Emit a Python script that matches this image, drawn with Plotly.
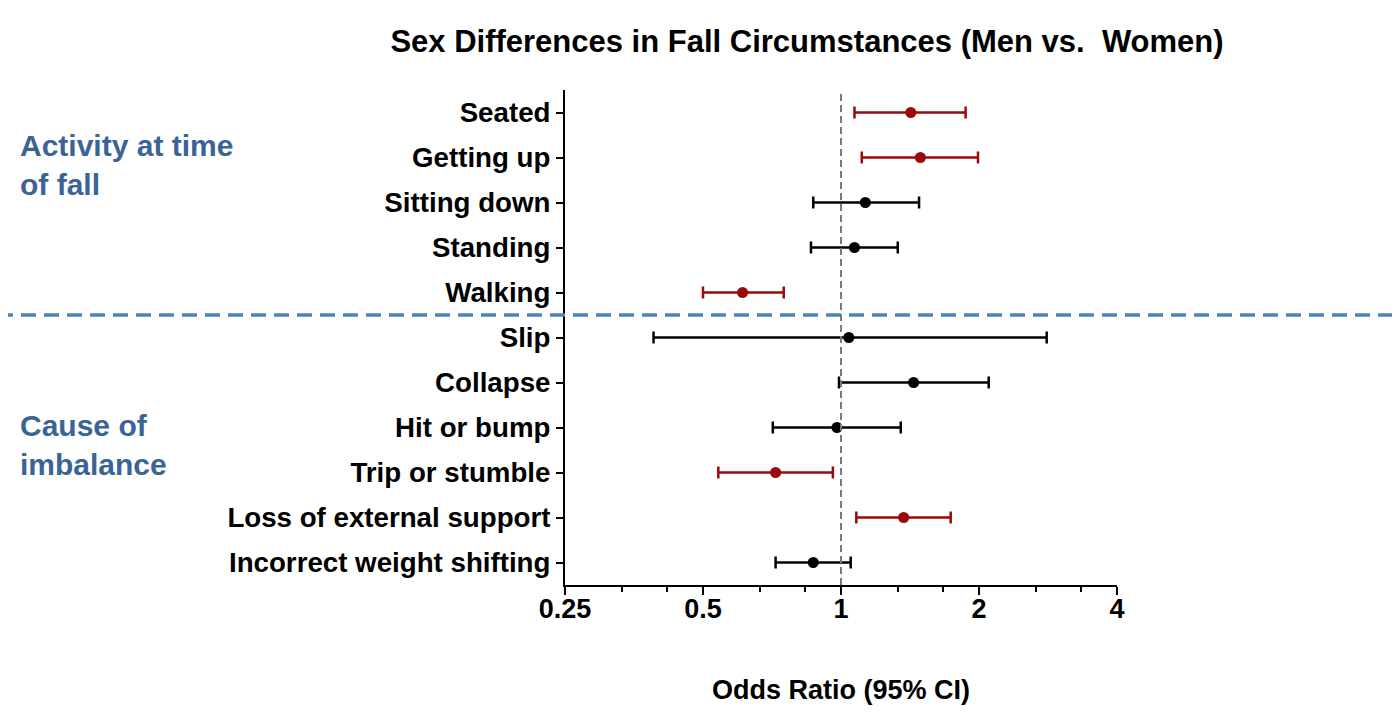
import math
import plotly.graph_objects as go

categories = ["Seated", "Getting up", "Sitting down", "Standing", "Walking",
              "Slip", "Collapse", "Hit or bump", "Trip or stumble",
              "Loss of external support", "Incorrect weight shifting"]
odds_ratio = [1.42, 1.49, 1.13, 1.07, 0.61, 1.04, 1.44, 0.98, 0.72, 1.37, 0.87]
ci_low = [1.07, 1.11, 0.87, 0.86, 0.50, 0.39, 0.99, 0.71, 0.54, 1.08, 0.72]
ci_high = [1.87, 1.99, 1.48, 1.33, 0.75, 2.81, 2.10, 1.35, 0.96, 1.735, 1.05]
significant = [True, True, False, False, True, False, False, False, True, True, False]
x_ticks = [0.25, 0.5, 1, 2, 4]
x_tick_labels = ["0.25", "0.5", "1", "2", "4"]
group_labels = ["Activity at time<br>of fall", "Cause of<br>imbalance"]

RED = "#9b0a0a"
BLACK = "#000000"
FONT = "Liberation Sans, Arial, sans-serif"

# page offset (body margin) compensation
OFF = 8
L, T = 565 - OFF, 90 - OFF
PW, PH = 552, 495

fig = go.Figure()
for sig, color in [(False, BLACK), (True, RED)]:
    idx = [i for i, s in enumerate(significant) if s == sig]
    fig.add_trace(go.Scatter(
        x=[odds_ratio[i] for i in idx],
        y=[i for i in idx],
        mode="markers",
        marker=dict(color=color, size=11),
        error_x=dict(type="data", symmetric=False,
                     array=[ci_high[i] - odds_ratio[i] for i in idx],
                     arrayminus=[odds_ratio[i] - ci_low[i] for i in idx],
                     color=color, thickness=2.5, width=6),
        showlegend=False,
    ))

# minor ticks at linear thirds between major ticks
minor_vals = []
for a in x_ticks[:-1]:
    minor_vals += [a * 4 / 3, a * 5 / 3]

fig.update_layout(
    width=1400, height=722,
    margin=dict(l=L, r=1400 - L - PW, t=T, b=722 - T - PH),
    paper_bgcolor="white", plot_bgcolor="white",
    title=dict(text="Sex Differences in Fall Circumstances (Men vs.  Women)",
               x=(807 - OFF) / 1400, xanchor="center", y=1 - (41 - OFF) / 722, yanchor="middle",
               font=dict(family=FONT, size=31, color="black", weight="bold")),
    xaxis=dict(type="log", range=[math.log10(0.25), math.log10(4)],
               tickvals=x_ticks, ticktext=x_tick_labels,
               showgrid=False, zeroline=False,
               showline=True, linecolor="black", linewidth=2,
               ticks="outside", ticklen=8, tickwidth=2, tickcolor="black",
               ticklabelstandoff=-9,
               minor=dict(tickmode="array", tickvals=minor_vals, ticks="outside",
                          ticklen=5, tickwidth=2, tickcolor="black", showgrid=False),
               tickfont=dict(family=FONT, size=27, color="black", weight="bold")),
    yaxis=dict(range=[10.5, -0.5], tickvals=list(range(len(categories))),
               ticktext=categories, showgrid=False, zeroline=False,
               showline=True, linecolor="black", linewidth=2,
               ticks="outside", ticklen=7, tickwidth=2, tickcolor="black",
               tickfont=dict(family=FONT, size=27.7, color="black", weight="bold")),
)

# reference line at OR = 1
fig.add_shape(type="line", xref="x", yref="paper", x0=1, x1=1, y0=0, y1=1,
              line=dict(color="#7a7a7a", width=2, dash="7px,4px"))
# group separator
fig.add_shape(type="line", xref="paper", yref="y", x0=-(L + 10) / PW, x1=(1400 - L + 10) / PW,
              y0=4.5, y1=4.5, line=dict(color="#4f81bd", width=3.5, dash="15px,8px"))

# x axis title
fig.add_annotation(text="Odds Ratio (95% CI)", xref="paper", yref="paper",
                   x=0.5, xanchor="center", y=-(690 - 585) / PH, yanchor="middle",
                   showarrow=False,
                   font=dict(family=FONT, size=27, color="black", weight="bold"))

for text, ypx in zip(group_labels, [165, 445]):
    fig.add_annotation(text=text, xref="paper", yref="paper",
                       x=-(L - (18 - OFF)) / PW, xanchor="left",
                       y=1 - (ypx - 90) / PH, yanchor="middle",
                       showarrow=False, align="left",
                       font=dict(family=FONT, size=30, color="#3a6496", weight="bold"))

fig.write_html("out.html")
